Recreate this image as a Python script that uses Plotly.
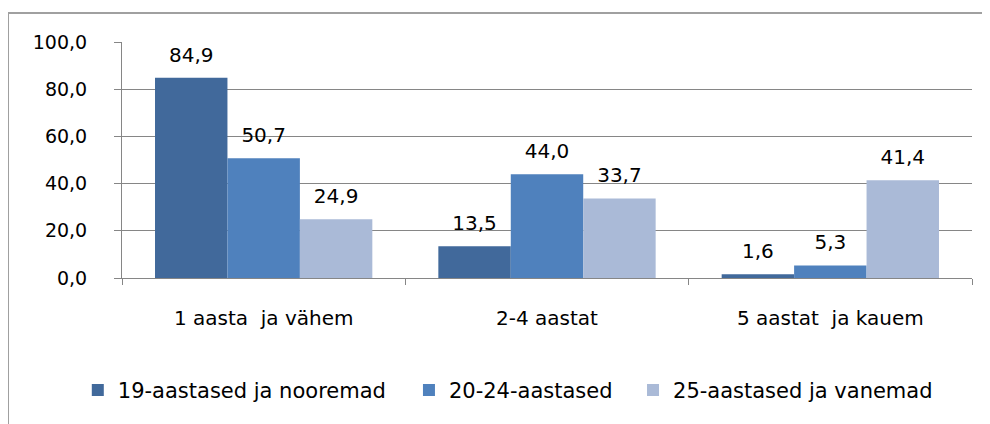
import plotly.graph_objects as go

categories = ["1 aasta  ja vähem", "2-4 aastat", "5 aastat  ja kauem"]
series_names = ["19-aastased ja nooremad", "20-24-aastased", "25-aastased ja vanemad"]
values_19 = [84.9, 13.5, 1.6]
values_20_24 = [50.7, 44.0, 5.3]
values_25 = [24.9, 33.7, 41.4]
y_ticks = [0, 20, 40, 60, 80, 100]

colors = ["#41699B", "#4F81BD", "#AABAD7"]
FONT = "DejaVu Sans, Verdana, sans-serif"
GRID = "#868686"
legend_ids = ["legend", "legend2", "legend3"]
legend_x = [-0.052, 0.3376, 0.6012]

fig = go.Figure()
all_vals = [values_19, values_20_24, values_25]
for i, (name, vals, col) in enumerate(zip(series_names, all_vals, colors)):
    fig.add_trace(go.Bar(
        x=categories, y=vals, name=name,
        marker=dict(color=col, line=dict(width=0)),
        offsetgroup=str(i), legend=legend_ids[i],
    ))
for i, vals in enumerate(all_vals):
    fig.add_trace(go.Scatter(
        x=categories, y=vals, mode="markers+text",
        texttemplate="%{y:.1f}", textposition="top center",
        textfont=dict(size=20, color="#000000", family=FONT),
        marker=dict(size=16, opacity=0),
        offsetgroup=str(i), showlegend=False, hoverinfo="skip",
        cliponaxis=False,
    ))

legend_common = dict(orientation="h", xanchor="left", y=-0.476, yanchor="middle",
                     font=dict(size=21, family=FONT), bgcolor="rgba(0,0,0,0)")

fig.update_layout(
    width=990, height=424,
    margin=dict(l=114, r=26, t=34, b=154),
    paper_bgcolor="white", plot_bgcolor="white",
    barmode="group", bargap=0.233, bargroupgap=0,
    scattermode="group", scattergap=0.233,
    separators=", ",
    font=dict(family=FONT, size=20, color="#000000"),
    showlegend=True,
    legend=dict(x=legend_x[0], **legend_common),
    legend2=dict(x=legend_x[1], **legend_common),
    legend3=dict(x=legend_x[2], **legend_common),
    xaxis=dict(showline=True, linecolor=GRID, linewidth=1,
               ticks="outside", ticklen=6, tickcolor=GRID,
               tickson="boundaries", showgrid=False,
               ticklabelstandoff=22,
               tickfont=dict(size=20, family=FONT)),
    yaxis=dict(range=[0, 100], tickvals=y_ticks, tickformat=".1f",
               showgrid=True, gridcolor=GRID, gridwidth=1,
               showline=True, linecolor=GRID, linewidth=1,
               ticks="outside", ticklen=7, tickcolor=GRID,
               ticklabelstandoff=23,
               zeroline=False, tickfont=dict(size=19, family=FONT)),
    shapes=[
        dict(type="line", xref="paper", yref="paper", x0=-0.1341, x1=1.1, y0=1.1229, y1=1.1229,
             line=dict(color="#A0A0A0", width=2)),
        dict(type="line", xref="paper", yref="paper", x0=-0.1341, x1=-0.1341, y0=1.1229, y1=-0.8,
             line=dict(color="#A0A0A0", width=2)),
    ],
)

fig.write_html("out.html")
